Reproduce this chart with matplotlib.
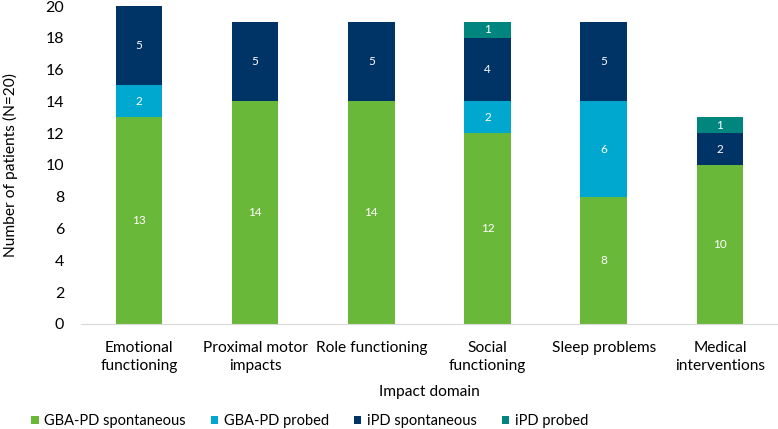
import matplotlib.pyplot as plt
import numpy as np

plt.rcParams['font.family'] = ['Lato', 'DejaVu Sans']

categories = ["Emotional\nfunctioning", "Proximal motor\nimpacts", "Role functioning",
              "Social\nfunctioning", "Sleep problems", "Medical\ninterventions"]
gba_spont = [13, 14, 14, 12, 8, 10]
gba_probed = [2, 0, 0, 2, 6, 0]
ipd_spont = [5, 5, 5, 4, 5, 2]
ipd_probed = [0, 0, 0, 1, 0, 1]

series = [("GBA-PD spontaneous", gba_spont, "#6ab83a"),
          ("GBA-PD probed", gba_probed, "#00a8cf"),
          ("iPD spontaneous", ipd_spont, "#003366"),
          ("iPD probed", ipd_probed, "#00857f")]

fig = plt.figure(figsize=(7.78, 4.29), dpi=100)
ax = fig.add_axes([0.104, 0.245, 0.896, 0.741])

x = np.arange(len(categories))
bottom = np.zeros(len(categories))
for name, vals, col in series:
    vals = np.array(vals, dtype=float)
    ax.bar(x, vals, 0.4, bottom=bottom, color=col, label=name)
    for xi, b, v in zip(x, bottom, vals):
        if v > 0:
            ax.text(xi, b + v / 2, f"{int(v)}", ha="center", va="center",
                    color="white", fontsize=8.5)
    bottom += vals

ax.set_xlim(-0.5, len(categories) - 0.5)
ax.set_ylim(0, 20)
ax.set_yticks(range(0, 21, 2))
ax.set_xticks(x)
ax.set_xticklabels(categories, fontsize=11.2, linespacing=1.4)
ax.tick_params(axis="y", labelsize=11.5, length=0, pad=12)
ax.tick_params(axis="x", length=0, pad=12)
for s in ["top", "right", "left"]:
    ax.spines[s].set_visible(False)
ax.spines["bottom"].set_color("#d9d9d9")
ax.set_xlabel("Impact domain", fontsize=11.2, labelpad=9)
ax.set_ylabel("Number of patients (N=20)", fontsize=11.2, labelpad=20)

ax.legend(loc="center left", bbox_to_anchor=(-0.09, -0.305), ncol=4, frameon=False,
          fontsize=10.5, handlelength=0.5, handleheight=0.5, handletextpad=0.4,
          columnspacing=1.7)

fig.savefig("out.png", dpi=100)
